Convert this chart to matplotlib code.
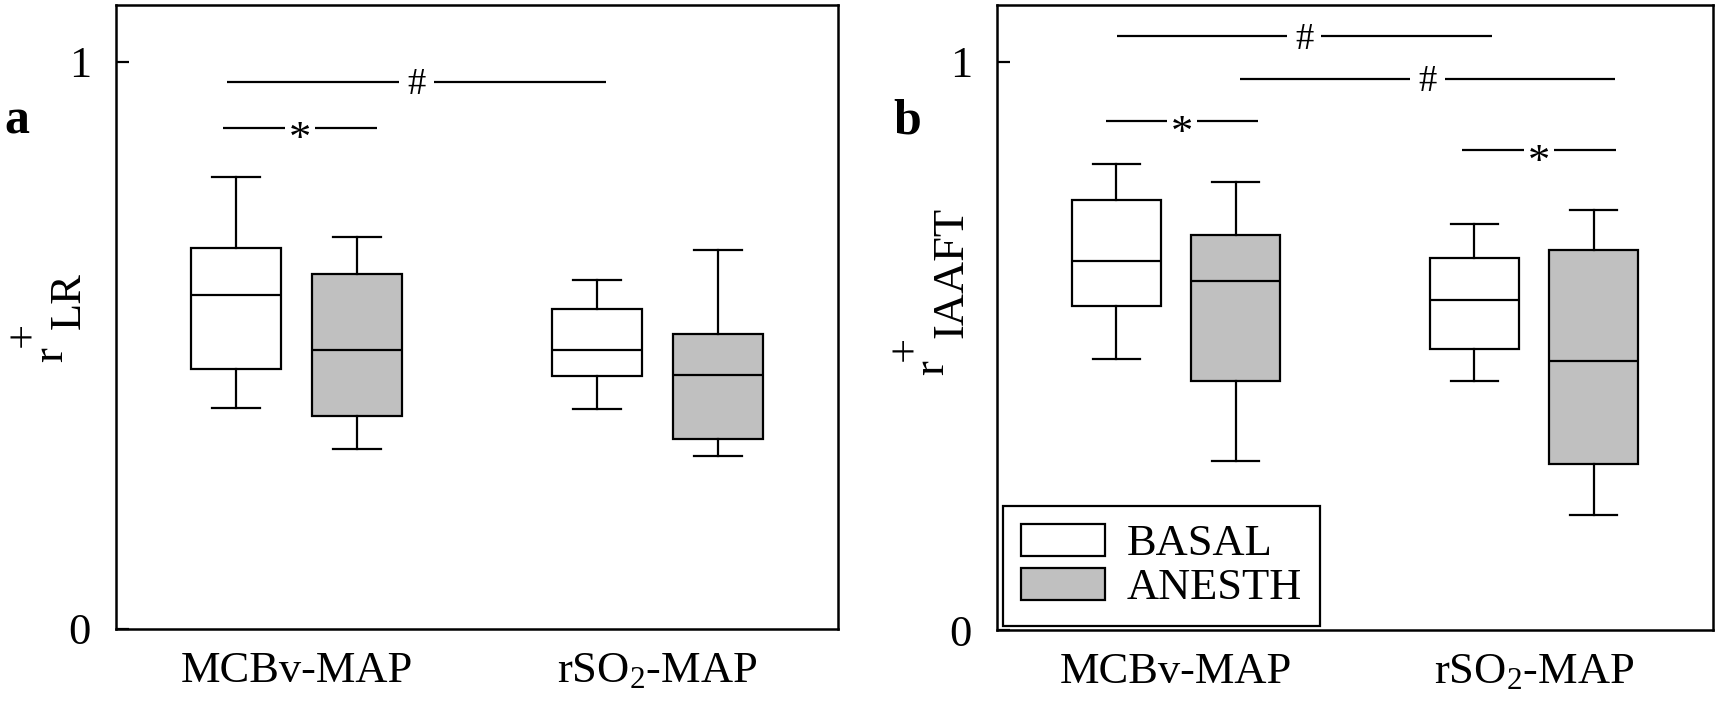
import matplotlib
matplotlib.use("Agg")
import matplotlib.pyplot as plt
from matplotlib.patches import Patch

plt.rcParams['font.family'] = ['Liberation Serif', 'DejaVu Serif']
plt.rcParams['mathtext.fontset'] = 'custom'
plt.rcParams['mathtext.rm'] = 'Liberation Serif'
plt.rcParams['mathtext.it'] = 'Liberation Serif:italic'
plt.rcParams['mathtext.bf'] = 'Liberation Serif:bold'

# ---------------- data ----------------
categories = ['MCBv-MAP', 'rSO$_2$-MAP']
series = ['BASAL', 'ANESTH']
# five-number summaries per category: [whisker low, Q1, median, Q3, whisker high]
a_basal = [[0.390, 0.459, 0.589, 0.671, 0.797],
           [0.388, 0.446, 0.492, 0.564, 0.616]]
a_anesth = [[0.318, 0.376, 0.492, 0.626, 0.691],
            [0.305, 0.335, 0.447, 0.520, 0.668]]
b_basal = [[0.477, 0.571, 0.649, 0.757, 0.820],
           [0.438, 0.494, 0.580, 0.654, 0.715]]
b_anesth = [[0.298, 0.439, 0.614, 0.696, 0.789],
            [0.203, 0.293, 0.474, 0.669, 0.740]]
# significance bars: (symbol, x start, x end, level)
a_sig = [('#', 0.807, 1.857, 0.965),
         ('*', 0.796, 1.223, 0.883)]
b_sig = [('#', 0.834, 1.882, 1.045),
         ('#', 1.178, 2.226, 0.970),
         ('*', 0.804, 1.230, 0.895),
         ('*', 1.800, 2.228, 0.844)]
yticks = [0, 1]
ytick_labels = ['0', '1']

colors = {'BASAL': 'white', 'ANESTH': '#c0c0c0'}

W, H = 1725, 719
fig = plt.figure(figsize=(W / 100, H / 100), dpi=100)

def px(x, y):
    return x / W, 1 - y / H

FS = 32
LW = 1.6
offset = 1 / 6
bw = 0.25
capw = 0.133

def make_stats(vals):
    out = []
    for v in vals:
        out.append(dict(whislo=v[0], q1=v[1], med=v[2], q3=v[3], whishi=v[4], fliers=[]))
    return out

def draw_panel(ax, basal, anesth, sigs):
    base = list(range(1, len(categories) + 1))
    for name, vals, sh in (('BASAL', basal, -offset), ('ANESTH', anesth, offset)):
        ax.bxp(make_stats(vals), positions=[p + sh for p in base], widths=bw,
               patch_artist=True, showfliers=False, capwidths=capw,
               boxprops=dict(facecolor=colors[name], edgecolor='black', linewidth=LW),
               medianprops=dict(color='black', linewidth=LW),
               whiskerprops=dict(color='black', linewidth=LW),
               capprops=dict(color='black', linewidth=LW),
               manage_ticks=False)
    for sym, x0, x1, yv in sigs:
        ax.plot([x0, x1], [yv, yv], color='black', lw=LW, solid_capstyle='butt', zorder=3)
        if sym == '#':
            fs, shift, pad = 26.5, -0.34, 0.22
        else:
            fs, shift, pad = 32, -0.52, 0.08
        ax.annotate(sym, xy=((x0 + x1) / 2, yv), xytext=(0, shift * fs),
                    textcoords='offset points', ha='center', va='baseline',
                    fontsize=fs, zorder=4,
                    bbox=dict(boxstyle='square,pad=%g' % pad, fc='white', ec='none'))
    ax.set_xlim(0.5, 2.5)
    ax.set_ylim(0, 1.1)
    ax.set_xticks(base)
    ax.set_xticklabels(categories, fontsize=FS)
    ax.set_yticks(yticks)
    ax.set_yticklabels(ytick_labels, fontsize=FS)
    ax.tick_params(axis='y', direction='in', length=9.5, width=LW, pad=18)
    ax.tick_params(axis='x', length=0, pad=16)
    for s in ax.spines.values():
        s.set_linewidth(1.8)

# panel a
axa = fig.add_axes([116 / W, 1 - 629 / H, (838 - 116) / W, (629 - 5) / H])
draw_panel(axa, a_basal, a_anesth, a_sig)
# panel b
axb = fig.add_axes([997 / W, 1 - 630 / H, (1713 - 997) / W, (630 - 5) / H])
draw_panel(axb, b_basal, b_anesth, b_sig)

handles = [Patch(facecolor=colors[s], edgecolor='black', linewidth=LW, label=s) for s in series]
leg = axb.legend(handles=handles, loc='lower left', bbox_to_anchor=(0.0084, 0.0064),
                 borderaxespad=0, fontsize=FS, frameon=True, fancybox=False,
                 edgecolor='black', framealpha=1, handlelength=1.89, handleheight=0.73,
                 handletextpad=0.5, labelspacing=0.08, borderpad=0.4)
leg.get_frame().set_linewidth(1.6)

# y-axis labels built from pieces (r, superscript +, subscript)
def ylabel(r_xy, plus_xy, sub_xy, sub):
    kw = dict(rotation=90, rotation_mode='anchor', ha='left', va='baseline', fontsize=FS)
    fig.text(*px(*r_xy), 'r', **kw)
    fig.text(*px(*plus_xy), '+', **kw)
    fig.text(*px(*sub_xy), sub, **kw)

ylabel((62, 362), (35, 347), (80, 329), 'LR')
ylabel((943, 375), (917, 361), (962, 338), 'IAAFT')

# panel letters
fig.text(*px(4, 133), 'a', fontsize=36, fontweight='bold', ha='left', va='baseline')
fig.text(*px(893, 133), 'b', fontsize=36, fontweight='bold', ha='left', va='baseline')

fig.savefig('out.png', dpi=100)
